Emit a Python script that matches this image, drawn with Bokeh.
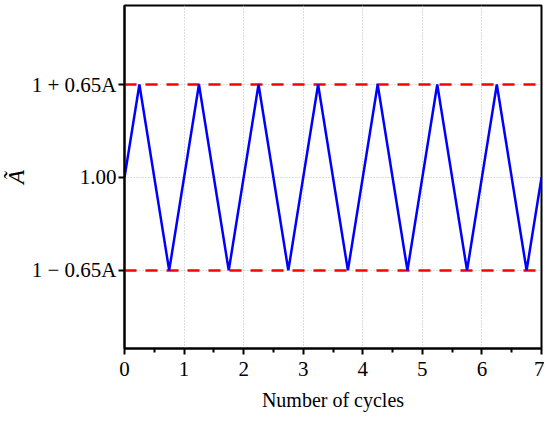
from bokeh.plotting import figure
from bokeh.models import FixedTicker, Range1d
from bokeh.embed import file_html
from bokeh.resources import INLINE

# Data (A taken as 0.4, so 0.65A = 0.26)
cycles = [0.0, 0.25, 0.75, 1.25, 1.75, 2.25, 2.75, 3.25, 3.75, 4.25, 4.75,
          5.25, 5.75, 6.25, 6.75, 7.0]
a_tilde = [1.00, 1.26, 0.74, 1.26, 0.74, 1.26, 0.74, 1.26, 0.74, 1.26, 0.74,
           1.26, 0.74, 1.26, 0.74, 1.00]
upper_level = 1.26
lower_level = 0.74
x_ticks = [0, 1, 2, 3, 4, 5, 6, 7]
x_minor = [0.5, 1.5, 2.5, 3.5, 4.5, 5.5, 6.5]
y_ticks = [0.74, 1.00, 1.26]
y_tick_labels = {0.74: "1 \u2212 0.65A", 1.00: "1.00", 1.26: "1 + 0.65A"}

FONT = "Liberation Serif"

p = figure(width=544, height=414, output_backend="svg", toolbar_location=None,
           x_range=Range1d(0, 7), y_range=Range1d(1 - 1.84 * 0.26, 1 + 1.85 * 0.26),
           min_border_left=123, min_border_right=3, min_border_top=5,
           min_border_bottom=66)

# dashed bounds
p.line([0, 7], [upper_level, upper_level], line_color="#ff0000", line_width=2.5,
       line_dash="12 9")
p.line([0, 7], [lower_level, lower_level], line_color="#ff0000", line_width=2.5,
       line_dash="12 9")

# triangle wave
p.line(cycles, a_tilde, line_color="#0000ff", line_width=2.5)

# outline
p.outline_line_color = "black"
p.outline_line_width = 2
p.outline_line_alpha = 1

# grid
p.grid.grid_line_color = "#bbbbbb"
p.grid.grid_line_dash = "1 2"
p.grid.grid_line_width = 1

# x axis
p.xaxis.ticker = FixedTicker(ticks=x_ticks, minor_ticks=x_minor)
p.xaxis.axis_label = "Number of cycles"
p.xaxis.axis_label_standoff = 10

# y axis
p.yaxis.ticker = FixedTicker(ticks=y_ticks)
p.yaxis.major_label_overrides = y_tick_labels
p.yaxis.axis_label = "\u00c3"
p.yaxis.axis_label_text_font_style = "italic"
p.yaxis.axis_label_standoff = 0
p.yaxis.minor_tick_line_color = None

for ax in (p.xaxis, p.yaxis):
    ax.axis_line_width = 2
    ax.axis_line_color = "black"
    ax.major_tick_line_width = 2
    ax.major_tick_line_color = "black"
    ax.major_tick_out = 6
    ax.major_tick_in = 0
    ax.minor_tick_line_width = 2
    ax.minor_tick_out = 4
    ax.minor_tick_in = 0
    ax.major_label_text_font = FONT
    ax.major_label_text_font_size = "21px"
    ax.major_label_text_color = "black"
    ax.major_label_standoff = 7
    ax.axis_label_text_font = FONT
    ax.axis_label_text_font_size = "20px"
    ax.axis_label_text_color = "black"

p.xaxis.axis_label_text_font_style = "normal"
p.yaxis.major_label_standoff = 2
p.yaxis.axis_label_text_font_size = "23px"

open("out.html", "w").write(file_html(p, INLINE))
